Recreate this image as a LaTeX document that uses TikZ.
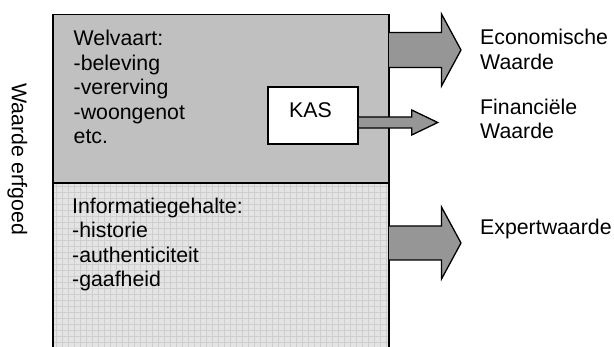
\documentclass[tikz,border=0pt]{standalone}
\usepackage{fontspec}
\setmainfont{Liberation Sans}
\begin{document}
\begin{tikzpicture}[x=1pt,y=-1pt,
  txt/.style={inner sep=0pt,align=left,font=\fontsize{21.3pt}{24.5pt}\selectfont},
  blockarrow/.style={draw=black,line width=1.3pt,fill=arrowgray,line join=miter},
  frame/.style={draw=black,line width=1.7pt}]
\definecolor{upgray}{HTML}{C0C0C0}
\definecolor{arrowgray}{HTML}{969696}
\definecolor{gridbg}{HTML}{E4E4E4}
\definecolor{gridline}{HTML}{CECECE}
\useasboundingbox (0,0) rectangle (614,347);
\clip (0,0) rectangle (614,347);

% upper part: welfare
\fill[upgray] (53,14.5) rectangle (389,183);
% lower part: information content, small grid fill
\begin{scope}
  \clip (53,183) rectangle (389,350);
  \fill[gridbg] (53,183) rectangle (389,350);
  \foreach \gx in {56,62,...,389} \draw[gridline,line width=0.6pt] (\gx,183) -- (\gx,350);
  \foreach \gy in {186,192,...,350} \draw[gridline,line width=0.6pt] (53,\gy) -- (389,\gy);
\end{scope}

% outer frame (open at the bottom) and divider
\coordinate (tl) at (53,14.5);
\coordinate (tr) at (389,14.5);
\coordinate (bl) at (53,350);
\coordinate (br) at (389,350);
\coordinate (ml) at (53,183);
\coordinate (mr) at (389,183);
\draw[frame] (bl) -- (tl) -- (tr) -- (br);
\draw[frame] (ml) -- (mr);

% KAS box
\node[draw=black,line width=1.5pt,fill=white,minimum width=90pt,minimum height=57pt,inner sep=0pt]
  (kas) at (313,115.5) {};
\node[txt,anchor=base] (kastxt) at (310.5,117.3) {KAS};

% block arrows
\coordinate (ecoS) at (389,50);
\coordinate (finS) at (kas.east |- 0,122.5);
\coordinate (expS) at (389,243);
\draw[blockarrow] (ecoS) ++(0,-17.5) -- ++(52.5,0) -- ++(0,-18.5) -- ++(19.5,36)
  -- ++(-19.5,36) -- ++(0,-18.5) -- ++(-52.5,0);
\draw[blockarrow] (finS) ++(0,-5.5) -- ++(53,0) -- ++(0,-7) -- ++(26,12.5)
  -- ++(-26,12.5) -- ++(0,-7) -- ++(-53,0);
\draw[blockarrow] (expS) ++(0,-17) -- ++(52.5,0) -- ++(0,-19) -- ++(19.5,36)
  -- ++(-19.5,36) -- ++(0,-19) -- ++(-52.5,0);

% texts inside the frame (anchored at the baseline of their last line)
\node[txt,anchor=base west] (welvaart) at (73.5,144)
  {Welvaart:\\-beleving\\-vererving\\-woongenot\\etc.};
\node[txt,anchor=base west] (info) at (72,287)
  {Informatiegehalte:\\-historie\\-authenticiteit\\-gaafheid};

% value labels
\node[txt,anchor=base west] (eco) at (480,69.5) {Economische\\Waarde};
\node[txt,anchor=base west] (fin) at (480,139) {Financiële\\Waarde};
\node[txt,anchor=base west] (exp) at (480,235) {Expertwaarde};

% side label
\node[txt,anchor=base west,rotate=-90] (erf) at (11.8,83) {Waarde erfgoed};
\end{tikzpicture}
\end{document}
